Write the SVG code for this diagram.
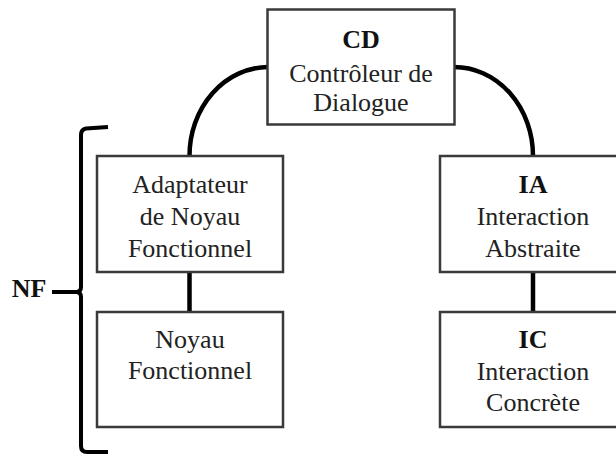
<svg xmlns="http://www.w3.org/2000/svg" width="616" height="454" viewBox="0 0 616 454">
<style>
.box{fill:#fff;stroke:#3a3a3a;stroke-width:2.5}
.t{font-family:"Liberation Serif","Times New Roman",serif;font-size:26px;fill:#222;text-anchor:middle}
.b{font-weight:bold;fill:#111}
.wire{fill:none;stroke:#000;stroke-width:4.5}
.br{fill:none;stroke:#000;stroke-width:4;stroke-linejoin:round;stroke-linecap:butt}
</style>
<rect width="616" height="454" fill="#fff"/>
<g id="connectors">
<path class="wire" d="M268,67 A79,89 0 0 0 189.5,156"/>
<path class="wire" d="M454,67 A79,89 0 0 1 533,156"/>
<line class="wire" x1="189.5" y1="272" x2="189.5" y2="312"/>
<line class="wire" x1="533" y1="272" x2="533" y2="312"/>
</g>
<g id="CD">
<rect class="box" x="267.5" y="9.5" width="187" height="115"/>
<text class="t b" x="361" y="48">CD</text>
<text class="t" x="361" y="82">Contrôleur de</text>
<text class="t" x="361" y="111">Dialogue</text>
</g>
<g id="ANF">
<rect class="box" x="97" y="156" width="186" height="116"/>
<text class="t" x="190" y="193">Adaptateur</text>
<text class="t" x="190" y="225">de Noyau</text>
<text class="t" x="190" y="257">Fonctionnel</text>
</g>
<g id="NFbox">
<rect class="box" x="97" y="312" width="186" height="115"/>
<text class="t" x="190" y="348">Noyau</text>
<text class="t" x="190" y="379">Fonctionnel</text>
</g>
<g id="IA">
<rect class="box" x="440" y="156" width="186" height="116"/>
<text class="t b" x="533" y="193">IA</text>
<text class="t" x="533" y="225">Interaction</text>
<text class="t" x="533" y="257">Abstraite</text>
</g>
<g id="IC">
<rect class="box" x="440" y="312" width="186" height="115"/>
<text class="t b" x="533" y="348">IC</text>
<text class="t" x="533" y="380">Interaction</text>
<text class="t" x="533" y="411">Concrète</text>
</g>
<g id="NF">
<path class="br" d="M108,127 L86,128.5 Q81,129.5 81,135 L81,287 Q81,292 76,292 L52,292 M76,292 Q81,292 81,297 L81,446 Q81,452 87,452 L108,452"/>
<text class="t b" x="29" y="297" style="fill:#111">NF</text>
</g>
</svg>
